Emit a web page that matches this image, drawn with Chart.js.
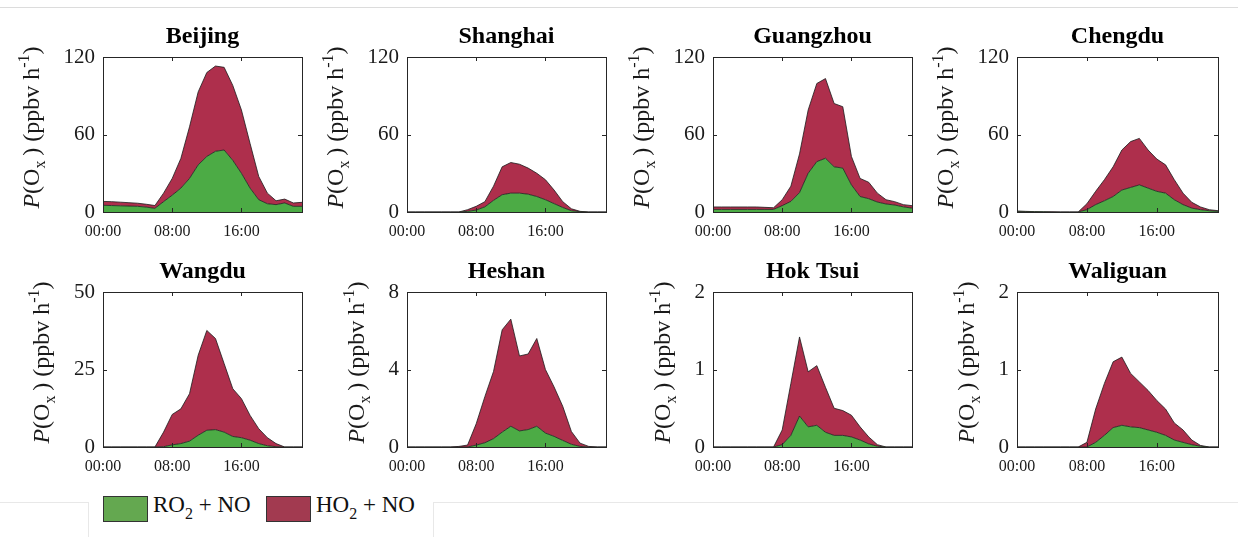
<!DOCTYPE html>
<html>
<head>
<meta charset="utf-8">
<script src="https://cdn.jsdelivr.net/npm/chart.js@4.4.1/dist/chart.umd.min.js"></script>
<style>
    html, body { margin: 0; padding: 0; background: #fff; }
    #page { position: relative; width: 1238px; height: 537px; overflow: hidden; font-family: "Liberation Serif", "Times New Roman", serif; }
    #page canvas { position: absolute; }
    .rule { position: absolute; background: #e8e8e8; }
    .swatch { position: absolute; top: 496px; width: 43px; height: 24px; border: 1px solid #333; }
    .legtext { position: absolute; top: 493px; font-size: 23px; line-height: 23px; color: #111; white-space: nowrap; }
    .legtext .sub { position: relative; top: 7px; font-size: 16px; }
</style>
</head>
<body>
<div id="page">
    <div class="rule" style="left:0;top:7px;width:1238px;height:1px;background:#dcdcdc"></div>
    <div class="rule" style="left:0;top:502px;width:88px;height:1px"></div>
    <div class="rule" style="left:433px;top:502px;width:805px;height:1px"></div>
    <div class="rule" style="left:88px;top:502px;width:1px;height:35px"></div>
    <div class="rule" style="left:433px;top:502px;width:1px;height:35px"></div>

    <div class="swatch" style="left:103px;background:#64a850"></div>
    <div class="legtext" style="left:153px">RO<span class="sub">2</span> + NO</div>
    <div class="swatch" style="left:266px;background:#a23a50"></div>
    <div class="legtext" style="left:316px">HO<span class="sub">2</span> + NO</div>
</div>

<script>
var hourLabels = ['00:00', '01:00', '02:00', '03:00', '04:00', '05:00', '06:00', '07:00',
    '08:00', '09:00', '10:00', '11:00', '12:00', '13:00', '14:00', '15:00',
    '16:00', '17:00', '18:00', '19:00', '20:00', '21:00', '22:00', '23:00'];

var siteNames = ['Beijing', 'Shanghai', 'Guangzhou', 'Chengdu', 'Wangdu', 'Heshan', 'Hok Tsui', 'Waliguan'];
var yMaxes = [120, 120, 120, 120, 50, 8, 2, 2];

// RO2 + NO (bottom, green) and HO2 + NO (stacked on top, red), ppbv h-1
var beijingRO2 = [5.2, 5.0, 4.8, 4.6, 4.4, 3.8, 2.8, 8, 13, 18.5, 26, 36.5, 43, 47, 48, 40, 30, 18.5, 9.5, 6.4, 5.7, 7, 4.4, 4.4];
var beijingHO2 = [3.0, 3.0, 2.8, 2.6, 2.4, 2.2, 2.2, 6.6, 13, 23, 40, 56.5, 65, 66, 64, 58, 49, 34.5, 18, 8.2, 3.0, 3.0, 2.6, 3.1];

var shanghaiRO2 = [0, 0, 0, 0, 0, 0, 0, 0.5, 1.5, 4, 9, 13.4, 14.6, 14.6, 13.8, 12, 9.5, 6.5, 3.5, 1, 0.2, 0, 0, 0];
var shanghaiHO2 = [0, 0, 0, 0, 0, 0, 0, 1.3, 2.9, 4, 11, 21.6, 23.7, 22.4, 20.2, 18, 15.5, 10.5, 4.5, 1.5, 0.3, 0, 0, 0];

var guangzhouRO2 = [2, 2, 2, 2, 2, 2, 2, 2, 4.9, 8.2, 15, 30, 39, 41.6, 35, 34, 21, 12, 10.3, 7.7, 6.2, 5.4, 4, 3];
var guangzhouHO2 = [1.9, 1.9, 1.9, 1.9, 1.9, 1.9, 1.6, 1.3, 4.6, 11.8, 30, 49, 60.5, 61.7, 49, 47.5, 22, 14, 12.7, 6.9, 3.3, 2.6, 1.7, 1.9];

var chengduRO2 = [0.3, 0.2, 0.1, 0.1, 0, 0, 0, 0, 1.8, 5.7, 8.7, 12, 17, 19, 21, 18.5, 16, 14.6, 9.5, 5.7, 3, 1.8, 1, 0.5];
var chengduHO2 = [0.5, 0.3, 0.2, 0.1, 0.1, 0, 0, 0, 4.6, 10.3, 16.3, 23, 31, 35.5, 36, 29.5, 25, 21.9, 15.5, 8.9, 4.5, 2.1, 0.8, 0.5];

var wangduRO2 = [0, 0, 0, 0, 0, 0, 0, 0.1, 0.7, 1.1, 1.9, 3.8, 5.4, 5.6, 4.8, 3.4, 3.0, 2.2, 1.1, 0.4, 0.1, 0, 0, 0];
var wangduHO2 = [0, 0, 0, 0, 0, 0, 0, 4.7, 9.8, 11.2, 15.3, 25.8, 32.2, 29.4, 22.1, 15.4, 12.6, 8.0, 4.8, 2.6, 1.0, 0, 0, 0];

var heshanRO2 = [0, 0, 0, 0, 0, 0, 0, 0, 0.1, 0.22, 0.43, 0.77, 1.07, 0.83, 0.9, 1.07, 0.72, 0.55, 0.34, 0.14, 0.03, 0, 0, 0];
var heshanHO2 = [0, 0, 0, 0, 0, 0, 0.03, 0.1, 1.1, 2.38, 3.47, 5.28, 5.53, 3.87, 3.9, 4.53, 3.28, 2.55, 1.76, 0.66, 0.17, 0.03, 0, 0];

var hokTsuiRO2 = [0, 0, 0, 0, 0, 0, 0, 0, 0.03, 0.15, 0.4, 0.26, 0.28, 0.19, 0.15, 0.15, 0.13, 0.09, 0.04, 0.01, 0, 0, 0, 0];
var hokTsuiHO2 = [0, 0, 0, 0, 0, 0, 0, 0, 0.19, 0.67, 1.02, 0.71, 0.77, 0.58, 0.35, 0.32, 0.28, 0.17, 0.09, 0.02, 0, 0, 0, 0];

var waliguanRO2 = [0, 0, 0, 0, 0, 0, 0, 0, 0, 0.06, 0.15, 0.25, 0.28, 0.26, 0.25, 0.22, 0.19, 0.15, 0.09, 0.06, 0.03, 0.01, 0, 0];
var waliguanHO2 = [0, 0, 0, 0, 0, 0, 0, 0, 0.06, 0.43, 0.67, 0.85, 0.88, 0.69, 0.59, 0.51, 0.41, 0.34, 0.22, 0.16, 0.06, 0.01, 0, 0];

(function (window, document) {
    'use strict';

    var SERIF = '"Liberation Serif", "Times New Roman", serif';
    var TEXT = '#1a1a1a';
    var GREEN = '#4cab45';
    var RED = '#ae2f4c';

    var ro2 = [beijingRO2, shanghaiRO2, guangzhouRO2, chengduRO2, wangduRO2, heshanRO2, hokTsuiRO2, waliguanRO2];
    var ho2 = [beijingHO2, shanghaiHO2, guangzhouHO2, chengduHO2, wangduHO2, heshanHO2, hokTsuiHO2, waliguanHO2];

    // plot-area boxes, left/right per column, top/bottom per row
    var colLeft = [103, 407, 713, 1017];
    var colRight = [302, 606, 912, 1218];
    var rowTop = [57, 292];
    var rowBottom = [212, 447];

    var AXIS_W = 100, TITLE_H = 57, XAXIS_H = 32, PAD_R = 10;
    var TITLE_SIZE = 24;

    // MATLAB-style box with inward ticks
    var framePlugin = {
        id: 'frame',
        afterDraw: function (chart) {
            var ctx = chart.ctx, a = chart.chartArea;
            var x = chart.scales.x, y = chart.scales.y;
            ctx.save();
            ctx.strokeStyle = '#262626';
            ctx.lineWidth = 1;
            ctx.strokeRect(Math.round(a.left) + 0.5, Math.round(a.top) + 0.5,
                Math.round(a.right - a.left), Math.round(a.bottom - a.top));
            ctx.beginPath();
            [8, 16].forEach(function (i) {
                var px = Math.round(x.getPixelForValue(i)) + 0.5;
                ctx.moveTo(px, a.bottom); ctx.lineTo(px, a.bottom - 4);
                ctx.moveTo(px, a.top); ctx.lineTo(px, a.top + 4);
            });
            y.ticks.forEach(function (t) {
                if (t.value <= y.min || t.value >= y.max) return;
                var py = Math.round(y.getPixelForValue(t.value)) + 0.5;
                ctx.moveTo(a.left, py); ctx.lineTo(a.left + 4, py);
                ctx.moveTo(a.right, py); ctx.lineTo(a.right - 4, py);
            });
            ctx.stroke();
            ctx.restore();
        }
    };

    // rotated "P(Ox) (ppbv h-1)" with sub/superscripts
    var yLabelPlugin = {
        id: 'ylabel',
        afterDraw: function (chart) {
            var ctx = chart.ctx, a = chart.chartArea, y = chart.scales.y;
            var parts = [
                { t: 'P', font: 'italic 24px ' + SERIF, dy: 0 },
                { t: '(O', font: '24px ' + SERIF, dy: 0 },
                { t: 'x', font: '16px ' + SERIF, dy: 6 },
                { t: '\u2009) (ppbv h', font: '24px ' + SERIF, dy: 0 },
                { t: '-1', font: '16px ' + SERIF, dy: -10 },
                { t: ')', font: '24px ' + SERIF, dy: 0 }
            ];
            ctx.save();
            ctx.font = '21px ' + SERIF;
            var widest = 0;
            y.ticks.forEach(function (t) {
                widest = Math.max(widest, ctx.measureText(String(t.label)).width);
            });
            var total = 0;
            parts.forEach(function (p) {
                ctx.font = p.font;
                p.w = ctx.measureText(p.t).width;
                total += p.w;
            });
            var baseX = a.left - 8 - widest - 19 - 6;
            var cy = (a.top + a.bottom) / 2 - 7;
            ctx.translate(baseX, cy);
            ctx.rotate(-Math.PI / 2);
            ctx.fillStyle = TEXT;
            ctx.textBaseline = 'alphabetic';
            var cx = -total / 2;
            parts.forEach(function (p) {
                ctx.font = p.font;
                ctx.fillText(p.t, cx, p.dy);
                cx += p.w;
            });
            ctx.restore();
        }
    };

    function makeCanvas(i) {
        var col = i % 4, row = Math.floor(i / 4);
        var l = colLeft[col], r = colRight[col], t = rowTop[row], b = rowBottom[row];
        var canvas = document.createElement('canvas');
        canvas.width = (r - l) + AXIS_W + PAD_R;
        canvas.height = (b - t) + TITLE_H + XAXIS_H;
        canvas.style.left = (l - AXIS_W) + 'px';
        canvas.style.top = (t - TITLE_H) + 'px';
        document.getElementById('page').appendChild(canvas);
        return canvas;
    }

    function drawSite(i) {
        var canvas = makeCanvas(i);
        var yMax = yMaxes[i];
        var titleLine = TITLE_SIZE * 1.2;

        new Chart(canvas, {
            type: 'line',
            data: {
                labels: hourLabels,
                datasets: [
                    {
                        label: 'RO2 + NO',
                        data: ro2[i],
                        fill: 'origin',
                        backgroundColor: GREEN,
                        borderColor: '#1c1c1c',
                        borderWidth: 0.8,
                        pointRadius: 0,
                        tension: 0
                    },
                    {
                        label: 'HO2 + NO',
                        data: ho2[i],
                        fill: '-1',
                        backgroundColor: RED,
                        borderColor: '#1c1c1c',
                        borderWidth: 0.8,
                        pointRadius: 0,
                        tension: 0
                    }
                ]
            },
            options: {
                responsive: false,
                animation: false,
                layout: { padding: { left: 0, right: PAD_R, top: 0, bottom: 0 } },
                plugins: {
                    legend: { display: false },
                    tooltip: { enabled: false },
                    title: {
                        display: true,
                        text: siteNames[i],
                        fullSize: false,
                        color: '#000',
                        font: { family: SERIF, size: TITLE_SIZE, weight: 'bold', lineHeight: 1.2 },
                        padding: { top: 22, bottom: TITLE_H - 22 - titleLine }
                    }
                },
                scales: {
                    x: {
                        type: 'category',
                        offset: false,
                        grid: { display: false, drawTicks: false },
                        border: { display: false },
                        ticks: {
                            autoSkip: false,
                            maxRotation: 0,
                            minRotation: 0,
                            padding: 10,
                            color: TEXT,
                            font: { family: SERIF, size: 16 },
                            callback: function (v, idx) {
                                return idx % 8 === 0 ? this.getLabelForValue(v) : null;
                            }
                        },
                        afterFit: function (s) { s.height = XAXIS_H; }
                    },
                    y: {
                        stacked: true,
                        min: 0,
                        max: yMax,
                        grid: { display: false, drawTicks: false },
                        border: { display: false },
                        ticks: {
                            stepSize: yMax / 2,
                            padding: 8,
                            color: TEXT,
                            font: { family: SERIF, size: 21 }
                        },
                        afterFit: function (s) { s.width = AXIS_W; }
                    }
                }
            },
            plugins: [framePlugin, yLabelPlugin]
        });
    }

    siteNames.forEach(function (name, i) {
        drawSite(i);
    });

})(window, document);
</script>
</body>
</html>
